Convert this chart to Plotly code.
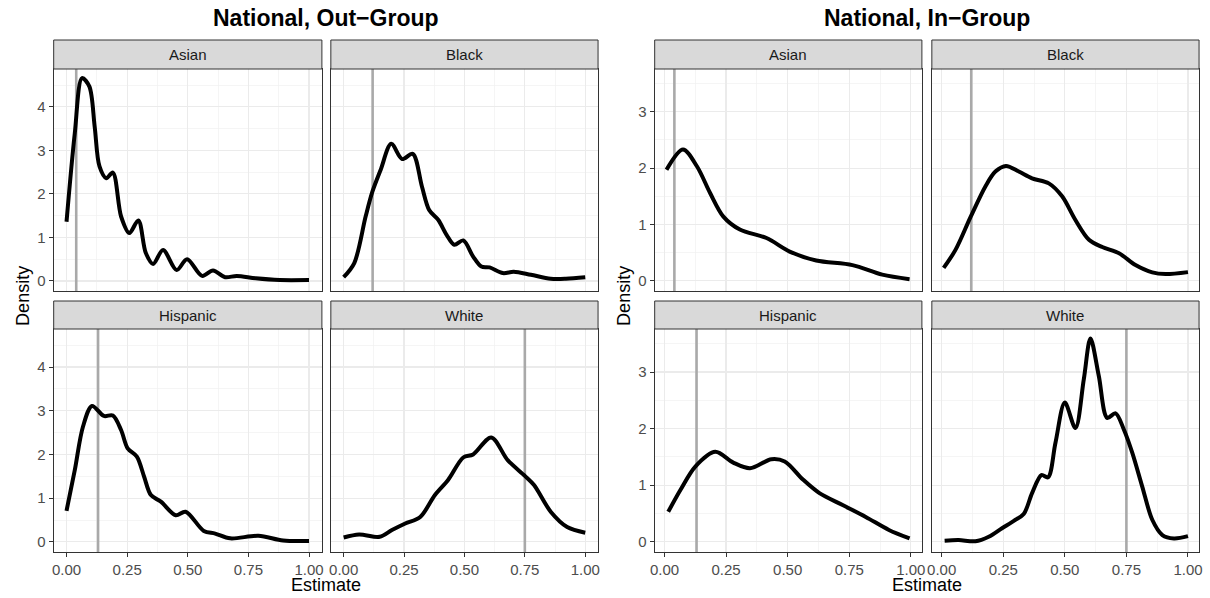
import plotly.graph_objects as go

W, H = 1210, 598

# ---------------- data ----------------
races = ["Asian", "Black", "Hispanic", "White"]
groups = ["Out", "In"]
group_titles = ["National, Out\u2212Group", "National, In\u2212Group"]

# reference (true) share lines
ref_values = [0.04, 0.12, 0.13, 0.75]

out_asian_x = [0.0, 0.034, 0.064, 0.094, 0.116, 0.136, 0.164, 0.191, 0.225, 0.259, 0.296, 0.327, 0.357, 0.398,
               0.454, 0.497, 0.559, 0.604, 0.654, 0.702, 0.78, 0.879, 1.0]
out_asian_y = [1.36, 3.39, 4.66, 4.47, 3.55, 2.63, 2.36, 2.49, 1.48, 1.10, 1.39, 0.64, 0.39, 0.71,
               0.25, 0.50, 0.115, 0.24, 0.085, 0.115, 0.06, 0.02, 0.02]

out_black_x = [0.0, 0.044, 0.091, 0.119, 0.153, 0.197, 0.242, 0.286, 0.324, 0.354, 0.392, 0.426, 0.458, 0.495,
               0.536, 0.570, 0.604, 0.659, 0.704, 0.775, 0.857, 0.92, 1.0]
out_black_y = [0.085, 0.41, 1.48, 2.05, 2.55, 3.15, 2.80, 2.92, 2.17, 1.63, 1.40, 1.06, 0.83, 0.93,
               0.56, 0.33, 0.31, 0.18, 0.21, 0.14, 0.05, 0.05, 0.085]

out_hisp_x = [0.0, 0.034, 0.068, 0.105, 0.154, 0.191, 0.225, 0.252, 0.29, 0.32, 0.348, 0.389, 0.45, 0.491,
              0.566, 0.613, 0.675, 0.791, 0.893, 1.0]
out_hisp_y = [0.71, 1.64, 2.64, 3.11, 2.88, 2.89, 2.56, 2.14, 1.95, 1.49, 1.07, 0.92, 0.61, 0.69,
              0.25, 0.19, 0.08, 0.14, 0.03, 0.02]

out_white_x = [0.0, 0.064, 0.149, 0.2, 0.255, 0.317, 0.378, 0.433, 0.495, 0.536, 0.611, 0.679, 0.75, 0.788,
               0.857, 0.925, 1.0]
out_white_y = [0.10, 0.17, 0.115, 0.27, 0.42, 0.57, 1.07, 1.42, 1.93, 2.0, 2.39, 1.87, 1.51, 1.30,
               0.69, 0.34, 0.21]

in_asian_x = [0.008, 0.075, 0.132, 0.185, 0.239, 0.306, 0.414, 0.508, 0.616, 0.763, 0.884, 0.995]
in_asian_y = [1.97, 2.33, 2.03, 1.56, 1.14, 0.91, 0.76, 0.52, 0.36, 0.28, 0.11, 0.03]

in_black_x = [0.008, 0.056, 0.118, 0.178, 0.218, 0.261, 0.313, 0.367, 0.435, 0.489, 0.543, 0.598, 0.652,
              0.72, 0.787, 0.855, 0.909, 1.0]
in_black_y = [0.23, 0.55, 1.14, 1.68, 1.94, 2.04, 1.94, 1.82, 1.73, 1.50, 1.08, 0.73, 0.60,
              0.49, 0.28, 0.15, 0.12, 0.155]

in_hisp_x = [0.015, 0.065, 0.125, 0.206, 0.279, 0.347, 0.434, 0.488, 0.562, 0.629, 0.723, 0.817, 0.911, 0.995]
in_hisp_y = [0.53, 0.92, 1.33, 1.59, 1.40, 1.30, 1.46, 1.42, 1.10, 0.86, 0.65, 0.44, 0.21, 0.06]

in_white_x = [0.012, 0.069, 0.137, 0.191, 0.245, 0.293, 0.333, 0.367, 0.405, 0.432, 0.462, 0.5, 0.543, 0.577,
              0.604, 0.638, 0.672, 0.706, 0.74, 0.774, 0.814, 0.855, 0.896, 0.943, 1.0]
in_white_y = [0.02, 0.03, 0.01, 0.09, 0.24, 0.37, 0.49, 0.86, 1.18, 1.14, 1.75, 2.46, 2.01, 2.87,
              3.59, 2.93, 2.19, 2.27, 1.98, 1.57, 0.98, 0.39, 0.12, 0.06, 0.10]

curves = [
    [(out_asian_x, out_asian_y), (out_black_x, out_black_y), (out_hisp_x, out_hisp_y), (out_white_x, out_white_y)],
    [(in_asian_x, in_asian_y), (in_black_x, in_black_y), (in_hisp_x, in_hisp_y), (in_white_x, in_white_y)],
]

x_tick_vals = [0, 0.25, 0.5, 0.75, 1.0]
y_tick_vals = [[0, 1, 2, 3, 4], [0, 1, 2, 3]]

# ---------------- layout geometry (pixels) ----------------
col_px = [[(49, 319), (328, 597)], [(654, 923), (933, 1202)]]
row_plot_px = [(69, 291), (329, 552)]
row_strip_px = [(40, 69), (301, 329)]
x_ranges = [[-0.053, 1.053], [-0.04, 1.045]]
y_ranges = [[-0.232, 4.87], [-0.18, 3.76]]

FONT = "Liberation Sans, Arial, Helvetica, sans-serif"
GRID = "#EBEBEB"
BORDER = "#333333"


def px_x(p):
    return p / W


def px_y(p):
    return 1 - p / H


fig = go.Figure()
layout = {}
shapes = []
annotations = []

idx = 0
for g in range(2):
    for r, race in enumerate(races):
        idx += 1
        row, col = divmod(r, 2)
        xs = "" if idx == 1 else str(idx)
        xname, yname = "x" + xs, "y" + xs
        x0, x1 = col_px[g][col]
        yt, yb = row_plot_px[row]

        show_x = row == 1
        show_y = col == 0
        layout["xaxis" + xs] = dict(
            domain=[px_x(x0), px_x(x1)], anchor=yname, range=x_ranges[g],
            tickmode="array", tickvals=x_tick_vals, tickformat=".2f",
            showticklabels=show_x, ticks="outside" if show_x else "", ticklen=4,
            tickcolor=BORDER, tickwidth=1,
            tickfont=dict(size=15, color="#4D4D4D", family=FONT),
            showgrid=True, gridcolor=GRID, gridwidth=1.2, zeroline=False,
            minor=dict(tickmode="array", tickvals=[-0.125, 0.125, 0.375, 0.625, 0.875, 1.125],
                       showgrid=True, gridcolor="#F1F1F1", gridwidth=0.7, ticks=""),
            showline=True, mirror=True, linecolor=BORDER, linewidth=1,
        )
        minor_y = [v + 0.5 for v in y_tick_vals[g]]
        layout["yaxis" + xs] = dict(
            domain=[px_y(yb), px_y(yt)], anchor=xname, range=y_ranges[g],
            tickmode="array", tickvals=y_tick_vals[g], tickformat="d",
            showticklabels=show_y, ticks="outside" if show_y else "", ticklen=4,
            tickcolor=BORDER, tickwidth=1,
            tickfont=dict(size=15, color="#4D4D4D", family=FONT),
            showgrid=True, gridcolor=GRID, gridwidth=1.2, zeroline=False,
            minor=dict(tickmode="array", tickvals=minor_y,
                       showgrid=True, gridcolor="#F1F1F1", gridwidth=0.7, ticks=""),
            showline=True, mirror=True, linecolor=BORDER, linewidth=1,
        )

        # reference line
        fig.add_trace(go.Scatter(
            x=[ref_values[r], ref_values[r]], y=y_ranges[g], mode="lines",
            line=dict(color="#A9A9A9", width=2.6), xaxis=xname, yaxis=yname,
            showlegend=False, hoverinfo="skip"))
        # density curve
        cx, cy = curves[g][r]
        fig.add_trace(go.Scatter(
            x=cx, y=cy, mode="lines", line=dict(color="black", width=4, shape="spline", smoothing=0.9),
            xaxis=xname, yaxis=yname, showlegend=False))

        # strip
        st, sb = row_strip_px[row]
        shapes.append(dict(type="rect", xref="paper", yref="paper",
                           x0=px_x(x0), x1=px_x(x1), y0=px_y(sb), y1=px_y(st),
                           fillcolor="#D9D9D9", line=dict(color=BORDER, width=1), layer="above"))
        annotations.append(dict(text=race, xref="paper", yref="paper",
                                x=px_x((x0 + x1) / 2), y=px_y((st + sb) / 2),
                                showarrow=False, xanchor="center", yanchor="middle",
                                font=dict(size=15, color="#1A1A1A", family=FONT)))

    # group titles and axis titles
    gx0 = col_px[g][0][0]
    gx1 = col_px[g][1][1]
    cx_mid = (gx0 + gx1) / 2
    annotations.append(dict(text="<b>" + group_titles[g] + "</b>", xref="paper", yref="paper",
                            x=px_x(cx_mid), y=px_y(18), showarrow=False,
                            xanchor="center", yanchor="middle",
                            font=dict(size=23, color="black", family=FONT)))
    annotations.append(dict(text="Estimate", xref="paper", yref="paper",
                            x=px_x(cx_mid), y=px_y(585), showarrow=False,
                            xanchor="center", yanchor="middle",
                            font=dict(size=18, color="black", family=FONT)))
    annotations.append(dict(text="Density", xref="paper", yref="paper",
                            x=px_x(gx0 - 31), y=px_y(296), showarrow=False, textangle=-90,
                            xanchor="center", yanchor="middle",
                            font=dict(size=18, color="black", family=FONT)))

fig.update_layout(
    width=W, height=H, margin=dict(l=0, r=0, t=0, b=0),
    paper_bgcolor="white", plot_bgcolor="white",
    font=dict(family=FONT), shapes=shapes, annotations=annotations,
    showlegend=False, hovermode=False, **layout)

fig.write_html("out.html",
               config={"displayModeBar": False, "staticPlot": True},
               post_script="document.body.style.margin='0';document.body.style.padding='0';"
                           "document.body.style.overflow='hidden';")
